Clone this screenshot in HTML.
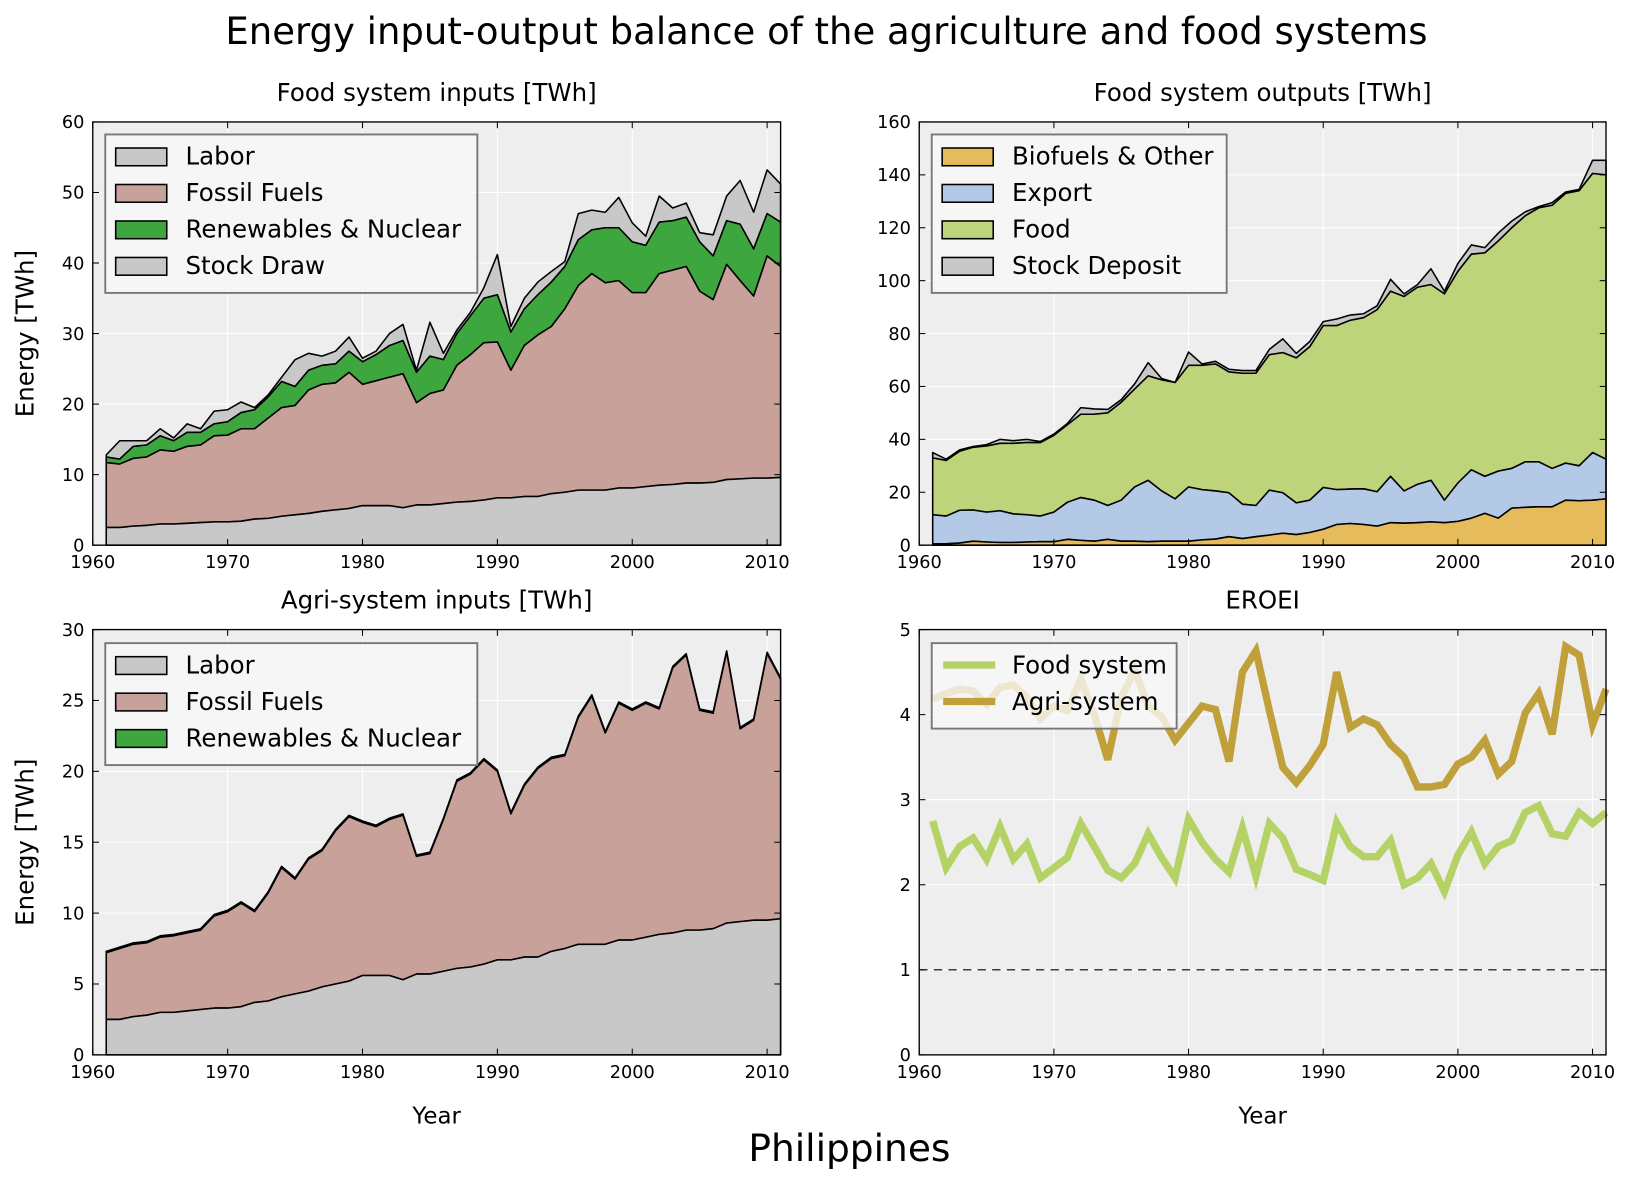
<!DOCTYPE html>
<html><head><meta charset="utf-8">
<style>
html,body{margin:0;padding:0;background:#fff;}
svg{display:block;font-family:"DejaVu Sans","Liberation Sans",sans-serif;}
</style></head>
<body>
<svg id="fig" width="1630" height="1181" viewBox="0 0 1564 1133" preserveAspectRatio="none" xmlns="http://www.w3.org/2000/svg">
<rect width="1564" height="1133" fill="#fff"/>
<text x="793" y="42" font-size="35.5" text-anchor="middle">Energy input-output balance of the agriculture and food systems</text>
<text x="815" y="1114" font-size="36" text-anchor="middle">Philippines</text>
</svg>
<script>
const years = [];
for (let y = 1961; y <= 2011; y++) years.push(y);
const labor = [2.5,2.5,2.7,2.8,3.0,3.0,3.1,3.2,3.3,3.3,3.4,3.7,3.8,4.1,4.3,4.5,4.8,5.0,5.2,5.6,5.6,5.6,5.3,5.7,5.7,5.9,6.1,6.2,6.4,6.7,6.7,6.9,6.9,7.3,7.5,7.8,7.8,7.8,8.1,8.1,8.3,8.5,8.6,8.8,8.8,8.9,9.3,9.4,9.5,9.5,9.6];
const foodFossilTop = [11.7,11.5,12.3,12.5,13.5,13.3,14.0,14.2,15.5,15.6,16.5,16.5,18.0,19.5,19.8,22.0,22.8,23.0,24.5,22.8,23.3,23.8,24.3,20.2,21.5,22.0,25.5,27.0,28.7,28.8,24.8,28.3,29.8,31.0,33.5,36.8,38.5,37.2,37.5,35.8,35.8,38.5,39.0,39.5,36.0,34.8,39.8,37.5,35.3,41.0,39.5];
const foodRenewTop = [12.5,12.2,14.0,14.2,15.5,14.8,16.0,16.0,17.2,17.5,18.8,19.2,21.0,23.2,22.5,24.8,25.5,25.7,27.5,26.0,27.0,28.3,29.0,24.5,26.8,26.3,30.0,32.5,35.0,35.5,30.2,33.5,35.5,37.3,39.5,43.3,44.7,45.0,45.0,43.0,42.5,45.8,46.0,46.5,43.0,41.0,46.0,45.5,42.0,47.0,45.8];
const foodStockTop = [12.8,14.8,14.8,14.8,16.5,15.2,17.2,16.5,19.0,19.2,20.3,19.5,21.3,23.8,26.3,27.2,26.8,27.5,29.5,26.5,27.5,30.0,31.3,24.8,31.6,27.2,30.5,33.0,36.5,41.2,31.0,35.0,37.3,38.8,40.2,47.0,47.5,47.2,49.3,45.7,43.8,49.5,47.8,48.5,44.3,44.0,49.5,51.7,47.2,53.2,51.2];
const outBioTop = [0.5,0.5,0.8,1.5,1.2,1.0,1.0,1.2,1.3,1.3,2.2,1.8,1.5,2.2,1.5,1.5,1.3,1.5,1.5,1.5,2.0,2.3,3.2,2.5,3.2,3.8,4.5,4.0,4.8,6.0,7.8,8.2,7.8,7.2,8.5,8.3,8.5,8.8,8.5,9.0,10.2,12.0,10.2,14.0,14.3,14.5,14.5,17.0,16.8,17.0,17.5];
const outExportTop = [11.5,11.0,13.2,13.3,12.5,13.0,11.8,11.5,11.0,12.5,16.2,18.0,17.0,15.0,17.0,22.0,24.5,20.5,17.5,22.0,21.0,20.5,19.8,15.5,15.0,20.8,19.8,16.0,17.0,21.8,21.0,21.2,21.3,20.2,26.0,20.5,23.0,24.5,17.0,23.5,28.5,26.0,28.0,29.0,31.5,31.5,29.0,31.0,30.0,35.0,32.5];
const outFoodTop = [33.0,32.0,35.5,37.0,37.5,38.5,38.5,38.8,38.8,41.5,45.5,49.5,49.5,50.0,54.0,59.0,64.0,62.5,61.5,68.0,68.0,68.5,65.5,65.0,65.0,72.0,72.8,70.8,75.0,83.0,83.0,85.0,86.0,89.0,96.0,94.0,97.5,98.5,95.0,103.5,110.0,110.5,115.0,120.0,124.5,127.5,128.5,133.0,134.0,140.5,140.0];
const outStockTop = [35,32.5,36,37.3,38,40,39.5,40,39.2,42,46,52,51.5,51.3,55,61,69,63,61.5,73,68.5,69.5,66.5,66,66,74,78,72.5,77,84.5,85.5,87,87.5,90.5,100.5,95,98.5,104.5,96,106.5,113.5,112.5,118,122.5,126,128,129.5,133.5,134.5,145.5,145.5];
const agriFossilTop = [7.2,7.5,7.8,7.9,8.3,8.4,8.6,8.8,9.8,10.1,10.7,10.1,11.4,13.2,12.4,13.8,14.4,15.8,16.8,16.4,16.1,16.6,16.9,14.0,14.2,16.6,19.3,19.8,20.8,20.0,17.0,19.0,20.2,20.9,21.1,23.8,25.3,22.7,24.8,24.3,24.8,24.4,27.3,28.2,24.3,24.1,28.4,23.0,23.6,28.3,26.5];
const agriRenewTop = agriFossilTop.map(v => v + 0.1);
const eroeiFood = [2.75,2.2,2.45,2.55,2.3,2.68,2.3,2.48,2.08,2.2,2.32,2.72,2.45,2.17,2.08,2.25,2.6,2.32,2.08,2.77,2.5,2.3,2.15,2.67,2.1,2.72,2.55,2.18,2.12,2.05,2.73,2.45,2.33,2.33,2.52,2.0,2.08,2.25,1.92,2.35,2.62,2.25,2.45,2.52,2.85,2.93,2.6,2.57,2.85,2.72,2.85];
const eroeiAgri = [4.18,4.25,4.3,4.28,4.12,4.32,4.35,4.2,3.95,4.1,4.05,4.42,4.0,3.47,4.2,4.52,4.1,3.98,3.7,3.9,4.1,4.06,3.45,4.5,4.75,4.05,3.38,3.2,3.4,3.65,4.5,3.85,3.95,3.88,3.65,3.5,3.15,3.15,3.18,3.42,3.5,3.7,3.3,3.45,4.02,4.25,3.77,4.8,4.7,3.88,4.3];
const xTicks = [1960,1970,1980,1990,2000,2010];

const NS = "http://www.w3.org/2000/svg";
const svg = document.getElementById('fig');
function mk(tag, attrs, parent) {
  const e = document.createElementNS(NS, tag);
  for (const k in attrs) e.setAttribute(k, attrs[k]);
  (parent || svg).appendChild(e);
  return e;
}

function panel(name, x0, y0, x1, y1, ymax, ystep, title, ylabel, xlabel) {
  const g = mk('g', {});
  
  
  const sx = v => x0 + (v - 1960) / 51 * (x1 - x0);
  const sy = v => y1 - v / ymax * (y1 - y0);
  const bg = mk('rect', {x: x0, y: y0, width: x1 - x0, height: y1 - y0, fill: '#eeeeee'}, g);
  
  
  const grid = mk('g', {stroke: '#fff', 'stroke-width': 1}, g);
  
  
  xTicks.forEach(t => mk('line', {x1: sx(t), x2: sx(t), y1: y0, y2: y1}, grid));
  for (let v = 0; v <= ymax + 1e-9; v += ystep) mk('line', {x1: x0, x2: x1, y1: sy(v), y2: sy(v)}, grid);
  const marks = mk('g', {}, g);
  const axes = mk('g', {}, g);
  
  
  xTicks.forEach(t => {
    mk('line', {x1: sx(t), x2: sx(t), y1: y1, y2: y1 - 6, stroke: '#000'}, axes);
    mk('line', {x1: sx(t), x2: sx(t), y1: y0, y2: y0 + 6, stroke: '#000'}, axes);
    const tx = mk('text', {x: sx(t), y: y1 + 22, 'font-size': 17, 'text-anchor': 'middle'}, axes);
    tx.textContent = t;
    
    
  });
  for (let v = 0; v <= ymax + 1e-9; v += ystep) {
    mk('line', {x1: x0, x2: x0 + 6, y1: sy(v), y2: sy(v), stroke: '#000'}, axes);
    mk('line', {x1: x1, x2: x1 - 6, y1: sy(v), y2: sy(v), stroke: '#000'}, axes);
    const ty = mk('text', {x: x0 - 8, y: sy(v) + 6, 'font-size': 17, 'text-anchor': 'end'}, axes);
    ty.textContent = v;
    
    
  }
  const tt = mk('text', {x: (x0 + x1) / 2, y: y0 - 20, 'font-size': 23.5, 'text-anchor': 'middle'}, g);
  tt.textContent = title;
  
  
  if (ylabel) {
    const yl = mk('text', {x: 0, y: 0, 'font-size': 23.5, 'text-anchor': 'middle', transform: `translate(32,${(y0 + y1) / 2}) rotate(-90)`}, g);
    yl.textContent = ylabel;
    
    
  }
  if (xlabel) {
    const xl = mk('text', {x: (x0 + x1) / 2, y: y1 + 66, 'font-size': 22, 'text-anchor': 'middle'}, g);
    xl.textContent = xlabel;
    
    
  }
  return {g, marks, axes, sx, sy, x0, y0, x1, y1};
}

function area(p, lower, upper, fill, name) {
  let d = '';
  years.forEach((yr, i) => { d += (i ? 'L' : 'M') + p.sx(yr) + ',' + p.sy(upper[i]); });
  for (let i = years.length - 1; i >= 0; i--) d += 'L' + p.sx(years[i]) + ',' + p.sy(lower ? lower[i] : 0);
  d += 'Z';
  const e = mk('path', {d, fill, stroke: '#000', 'stroke-width': 1.5, 'stroke-linejoin': 'round'}, p.marks);
  
  
}
function line(p, vals, color, name) {
  let d = '';
  years.forEach((yr, i) => { d += (i ? 'L' : 'M') + p.sx(yr) + ',' + p.sy(vals[i]); });
  const e = mk('path', {d, fill: 'none', stroke: color, 'stroke-width': 7, 'stroke-linejoin': 'miter'}, p.marks);
  
  
}
function frame(p) {
  const f = mk('rect', {x: p.x0, y: p.y0, width: p.x1 - p.x0, height: p.y1 - p.y0, fill: 'none', stroke: '#000', 'stroke-width': 1.3}, p.g);
  
  
}
function legend(p, lx, ly, w, entries, isLine) {
  const lg = mk('g', {}, p.g);
  
  
  mk('rect', {x: lx, y: ly, width: w, height: 12 + entries.length * 35, fill: '#f8f8f8', 'fill-opacity': 0.8, stroke: '#777', 'stroke-width': 1.8}, lg);
  entries.forEach((en, i) => {
    const cy = ly + 21 + i * 35;
    const eg = mk('g', {}, lg);
    
    
    if (isLine) mk('line', {x1: lx + 11, x2: lx + 61, y1: cy, y2: cy, stroke: en[1], 'stroke-width': 7}, eg);
    else mk('rect', {x: lx + 10, y: cy - 8, width: 49, height: 17, fill: en[1], stroke: '#000', 'stroke-width': 1.5}, eg);
    const t = mk('text', {x: lx + 77, y: cy + 8, 'font-size': 23.5}, eg);
    t.textContent = en[0];
  });
}

const C = {labor: '#c8c8c8', fossil: '#c8a29a', renew: '#3ea63e', bio: '#e6bb5c', exp: '#b3c9e6', food: '#bdd47b', foodLine: '#b4d266', agriLine: '#c0a03a'};

const p1 = panel('food-inputs-panel', 89, 117, 749, 523, 60, 10, 'Food system inputs [TWh]', 'Energy [TWh]', null);
area(p1, foodRenewTop, foodStockTop, C.labor, 'stock-draw-area');
area(p1, foodFossilTop, foodRenewTop, C.renew, 'renewables-area');
area(p1, labor, foodFossilTop, C.fossil, 'fossil-fuels-area');
area(p1, null, labor, C.labor, 'labor-area');
frame(p1);
legend(p1, 101, 129, 357, [['Labor', C.labor], ['Fossil Fuels', C.fossil], ['Renewables & Nuclear', C.renew], ['Stock Draw', C.labor]]);

const p2 = panel('food-outputs-panel', 882, 117, 1541, 523, 160, 20, 'Food system outputs [TWh]', null, null);
area(p2, outFoodTop, outStockTop, C.labor, 'stock-deposit-area');
area(p2, outExportTop, outFoodTop, C.food, 'food-area');
area(p2, outBioTop, outExportTop, C.exp, 'export-area');
area(p2, null, outBioTop, C.bio, 'biofuels-area');
frame(p2);
legend(p2, 894, 129, 283, [['Biofuels & Other', C.bio], ['Export', C.exp], ['Food', C.food], ['Stock Deposit', C.labor]]);

const p3 = panel('agri-inputs-panel', 89, 604, 749, 1012, 30, 5, 'Agri-system inputs [TWh]', 'Energy [TWh]', 'Year');
area(p3, agriFossilTop, agriRenewTop, C.renew, 'renewables-area');
area(p3, labor, agriFossilTop, C.fossil, 'fossil-fuels-area');
area(p3, null, labor, C.labor, 'labor-area');
frame(p3);
legend(p3, 101, 617, 357, [['Labor', C.labor], ['Fossil Fuels', C.fossil], ['Renewables & Nuclear', C.renew]]);

const p4 = panel('eroei-panel', 882, 604, 1541, 1012, 5, 1, 'EROEI', null, 'Year');
const ref = mk('line', {x1: p4.x0, x2: p4.x1, y1: p4.sy(1), y2: p4.sy(1), stroke: '#000', 'stroke-dasharray': '8,6', 'stroke-width': 1}, p4.marks);


line(p4, eroeiFood, C.foodLine, 'food-system-line');
line(p4, eroeiAgri, C.agriLine, 'agri-system-line');
frame(p4);
legend(p4, 894, 617, 235, [['Food system', C.foodLine], ['Agri-system', C.agriLine]], true);
</script>
</body></html>
